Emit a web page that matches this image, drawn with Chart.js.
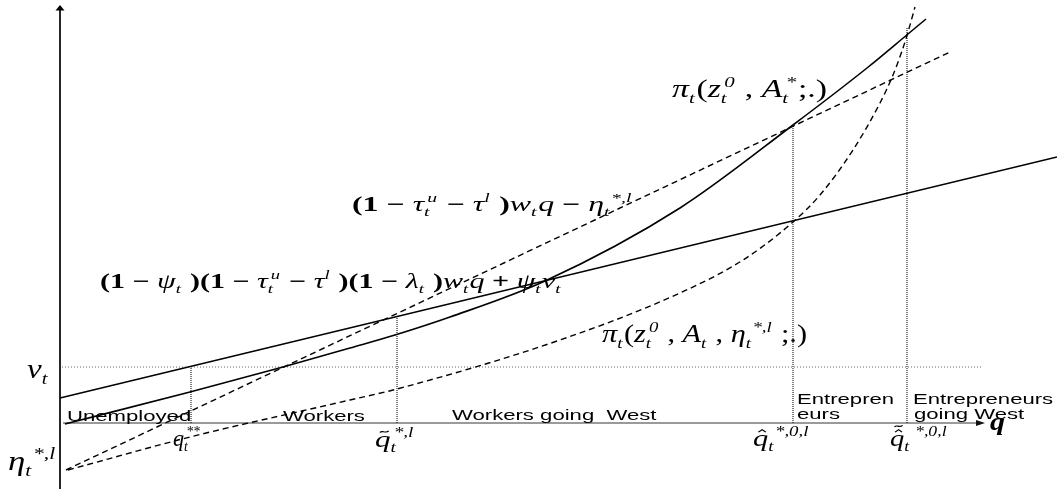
<!DOCTYPE html>
<html>
<head>
<meta charset="utf-8">
<script src="https://cdn.jsdelivr.net/npm/chart.js@4.4.1/dist/chart.umd.min.js"></script>
<style>
  html, body { margin: 0; padding: 0; background: #fff; overflow: hidden; }
  canvas { display: block; }
</style>
</head>
<body>
<canvas id="chart" width="1057" height="489"></canvas>
<script>
// Payoff schedules against skill q (arbitrary units)
// worker at home: (1-ψ)(1-τu-τl)(1-λ) w q + ψ ν
const workerQ = [0, 99.7];
const workerV = [2.5, 26.6];
// worker going West: (1-τu-τl) w q - η
const westWorkerQ = [0.6, 89];
const westWorkerV = [-4.7, 37.1];
// entrepreneur at home: π(z0, A*; .)
const entQ = [0.5, 13, 22.3, 29, 33.5, 39, 48.5, 62, 73.3, 80.7, 84.8, 86.6];
const entV = [-0.1, 3.1, 5.6, 7.5, 8.8, 10.6, 14.2, 21.5, 29.8, 35.5, 38.9, 40.4];
// entrepreneur going West: π(z0, A, η; .)
const westEntQ = [0.8, 13, 29, 33.7, 50, 62, 68.3, 73.3, 76, 79.3, 82, 83.3, 84.2, 84.8, 85.5];
const westEntV = [-4.7, -1.4, 2.3, 3.4, 8.3, 13, 16.3, 20.1, 22.8, 27.3, 32.0, 34.8, 37.2, 39.1, 41.6];
// reservation level ν and the skill cut-offs
const nuLevel = 5.6;
const nuSpan = [0.2, 92.3];
const cutoffQ = [13.1, 33.7, 73.3, 84.7];
const cutoffTop = [5.6, 10.8, 29.8, 39.6];
// region names along the q axis
const regionNames = ['Unemployed', 'Workers', 'Workers going  West', 'Entrepren', 'eurs', 'Entrepreneurs', 'going West'];

const axisTopV = 41.8;
const axisEndQ = 92.5;
const TEXT_STRETCH = 1.58;

const pts = (qs, vs) => qs.map((q, i) => ({ x: q, y: vs[i] }));

const datasets = [
  { data: pts(workerQ, workerV), borderColor: '#000', borderWidth: 1.5 },
  { data: pts(westWorkerQ, westWorkerV), borderColor: '#000', borderWidth: 1.4, borderDash: [6, 4] },
  { data: pts(entQ, entV), borderColor: '#000', borderWidth: 1.6, cubicInterpolationMode: 'monotone' },
  { data: pts(westEntQ, westEntV), borderColor: '#000', borderWidth: 1.4, borderDash: [6, 4], cubicInterpolationMode: 'monotone' },
  { data: pts(nuSpan, [nuLevel, nuLevel]), borderColor: '#666', borderWidth: 1, borderDash: [1, 2] }
];
cutoffQ.forEach((q, i) => {
  datasets.push({ data: pts([q, q], [0, cutoffTop[i]]), borderColor: '#111', borderWidth: 1.1, borderDash: [1, 1] });
});
datasets.forEach(d => { d.pointRadius = 0; d.fill = false; d.tension = d.cubicInterpolationMode ? 0.4 : 0; });

// math labels: tokens are [kind, ...] with kind r (roman), i (italic), sub, sup, ss (stacked sub+sup), acc (accented letter)
const mathLabels = [
  { q: 61.2, v: 32.6, w: 155, size: 25, tokens: [['i','π'],['sub','t'],['r','('],['i','z'],['ss','t','0'],['r',' , '],['i','A'],['ss','t','*'],['r',';.)']] },
  { q: 29.2, v: 21.2, w: 281, size: 21, bold: true, tokens: [['r','(1 − '],['i','τ'],['ss','t','u'],['r',' − '],['i','τ'],['sup','l'],['r',' )'],['i','w'],['sub','t'],['i','q'],['r',' − '],['i','η'],['sub','t'],['sup','*,l']] },
  { q: 4.0, v: 13.5, w: 462, size: 21, bold: true, tokens: [['r','(1 − '],['i','ψ'],['sub','t'],['r',' )(1 − '],['i','τ'],['ss','t','u'],['r',' − '],['i','τ'],['sup','l'],['r',' )(1 − '],['i','λ'],['sub','t'],['r',' )'],['i','w'],['sub','t'],['i','q'],['r',' + '],['i','ψ'],['sub','t'],['i','ν'],['sub','t']] },
  { q: 54.2, v: 8.1, w: 205, size: 25, tokens: [['i','π'],['sub','t'],['r','('],['i','z'],['ss','t','0'],['r',' , '],['i','A'],['sub','t'],['r',' , '],['i','η'],['sub','t'],['sup','*,l'],['r',' ;.)']] },
  { q: -3.3, v: 4.5, w: 22, size: 27, tokens: [['i','ν'],['sub','t']] },
  { q: -5.2, v: -4.7, w: 49, size: 27, tokens: [['i','η'],['sub','t'],['sup','*,l']] },
  { q: 11.3, v: -2.3, w: 28, size: 23, tokens: [['i','q'],['ss','t','**']] },
  { q: 31.5, v: -2.4, w: 40, size: 23, tokens: [['acc','q',['tilde']],['ss','t','*,l']] },
  { q: 69.3, v: -2.3, w: 57, size: 23, tokens: [['acc','q',['hat']],['sub','t'],['sup','*,0,l']] },
  { q: 83.0, v: -2.3, w: 58, size: 23, tokens: [['acc','q',['hat','tilde']],['sub','t'],['sup',' *,0,l']] },
  { q: 93.0, v: -0.7, w: 15, size: 25, boldItalic: true, tokens: [['i','q']] }
];

const regionLabels = [
  { q: 0.7, v: 0.2, text: regionNames[0] },
  { q: 22.3, v: 0.2, text: regionNames[1] },
  { q: 39.2, v: 0.3, text: regionNames[2] },
  { q: 73.7, v: 1.9, text: regionNames[3] },
  { q: 73.7, v: 0.4, text: regionNames[4] },
  { q: 85.3, v: 1.9, text: regionNames[5] },
  { q: 85.4, v: 0.4, text: regionNames[6] }
];

const SERIF = '"Liberation Serif", "Times New Roman", serif';
function font(italic, bold, size) {
  return (italic ? 'italic ' : '') + (bold ? 'bold ' : '') + size + 'px ' + SERIF;
}

function layoutTokens(ctx, lab) {
  const s = lab.size;
  const ops = [];
  let x = 0;
  const small = s * 0.62;
  for (const t of lab.tokens) {
    const k = t[0];
    if (k === 'r' || k === 'i') {
      const f = k === 'i' ? font(true, !!lab.boldItalic, s) : font(false, !!lab.bold, s);
      ctx.font = f;
      ops.push({ f, text: t[1], x, y: 0 });
      x += ctx.measureText(t[1]).width;
    } else if (k === 'sub' || k === 'sup' || k === 'ss') {
      const sub = k === 'sub' || k === 'ss' ? t[1] : null;
      const sup = k === 'sup' ? t[1] : (k === 'ss' ? t[2] : null);
      const f = font(true, false, small);
      ctx.font = f;
      let w = 0;
      if (sub) { ops.push({ f, text: sub, x, y: s * 0.22 }); w = Math.max(w, ctx.measureText(sub).width); }
      if (sup) {
        const dx = sub ? s * 0.1 : 0;
        ops.push({ f, text: sup, x: x + dx, y: -s * 0.42 });
        w = Math.max(w, ctx.measureText(sup).width + dx);
      }
      x += w + s * 0.05;
    } else if (k === 'acc') {
      const f = font(true, false, s);
      ctx.font = f;
      const w = ctx.measureText(t[1]).width;
      ops.push({ f, text: t[1], x, y: 0 });
      const cx = x + w * 0.6;
      t[2].forEach((a, i) => {
        const y = -s * (0.66 + 0.2 * i);
        ops.push({ draw: c => {
          c.beginPath();
          c.lineWidth = s * 0.05;
          if (a === 'hat') {
            c.moveTo(cx - s * 0.12, y + s * 0.06);
            c.lineTo(cx, y - s * 0.05);
            c.lineTo(cx + s * 0.12, y + s * 0.06);
          } else {
            c.moveTo(cx - s * 0.14, y + s * 0.03);
            c.bezierCurveTo(cx - s * 0.07, y - s * 0.09, cx + s * 0.03, y + s * 0.09, cx + s * 0.14, y - s * 0.04);
          }
          c.stroke();
        }});
      });
      x += w;
    }
  }
  return { ops, width: x };
}

const annotate = {
  id: 'annotate',
  beforeDatasetsDraw(chart) {
    const { ctx, scales: { x: xs, y: ys } } = chart;
    const x0 = xs.getPixelForValue(0);
    const y0 = ys.getPixelForValue(0);
    const yTop = ys.getPixelForValue(axisTopV);
    ctx.save();
    // vertical axis with arrow
    ctx.strokeStyle = '#000';
    ctx.lineWidth = 1.7;
    ctx.beginPath();
    ctx.moveTo(x0, chart.height);
    ctx.lineTo(x0, yTop + 4);
    ctx.stroke();
    ctx.fillStyle = '#000';
    ctx.beginPath();
    ctx.moveTo(x0, yTop);
    ctx.lineTo(x0 - 4.5, yTop + 5.5);
    ctx.lineTo(x0 + 4.5, yTop + 5.5);
    ctx.closePath();
    ctx.fill();
    // horizontal q axis with arrow
    const xEnd = xs.getPixelForValue(axisEndQ);
    ctx.strokeStyle = '#9a9a9a';
    ctx.lineWidth = 2.2;
    ctx.beginPath();
    ctx.moveTo(xs.getPixelForValue(0.3), y0);
    ctx.lineTo(xEnd - 7, y0);
    ctx.stroke();
    ctx.fillStyle = '#111';
    ctx.beginPath();
    ctx.moveTo(xEnd, y0);
    ctx.lineTo(xEnd - 9, y0 - 3);
    ctx.lineTo(xEnd - 9, y0 + 3);
    ctx.closePath();
    ctx.fill();
    ctx.restore();
  },
  afterDatasetsDraw(chart) {
    const { ctx, scales: { x: xs, y: ys } } = chart;
    ctx.save();
    ctx.fillStyle = '#000';
    ctx.strokeStyle = '#000';
    ctx.textAlign = 'left';
    ctx.textBaseline = 'alphabetic';
    // region names
    ctx.font = '14px "Liberation Sans", Arial, sans-serif';
    regionLabels.forEach(l => {
      ctx.save();
      ctx.translate(xs.getPixelForValue(l.q), ys.getPixelForValue(l.v));
      ctx.scale(TEXT_STRETCH, 1);
      ctx.fillText(l.text, 0, 0);
      ctx.restore();
    });
    // formulas and symbols
    mathLabels.forEach(lab => {
      const lay = layoutTokens(ctx, lab);
      ctx.save();
      ctx.translate(xs.getPixelForValue(lab.q), ys.getPixelForValue(lab.v));
      ctx.scale(lab.w / lay.width, 1);
      lay.ops.forEach(op => {
        if (op.draw) { op.draw(ctx); }
        else { ctx.font = op.f; ctx.fillText(op.text, op.x, op.y); }
      });
      ctx.restore();
    });
    ctx.restore();
  }
};

new Chart(document.getElementById('chart'), {
  type: 'line',
  data: { datasets },
  options: {
    responsive: false,
    animation: false,
    devicePixelRatio: 1,
    layout: { padding: 0 },
    plugins: { legend: { display: false }, tooltip: { enabled: false } },
    scales: {
      x: { type: 'linear', min: -6, max: 99.7, display: false },
      y: { type: 'linear', min: -6.6, max: 42.3, display: false }
    }
  },
  plugins: [annotate]
});
</script>
</body>
</html>
